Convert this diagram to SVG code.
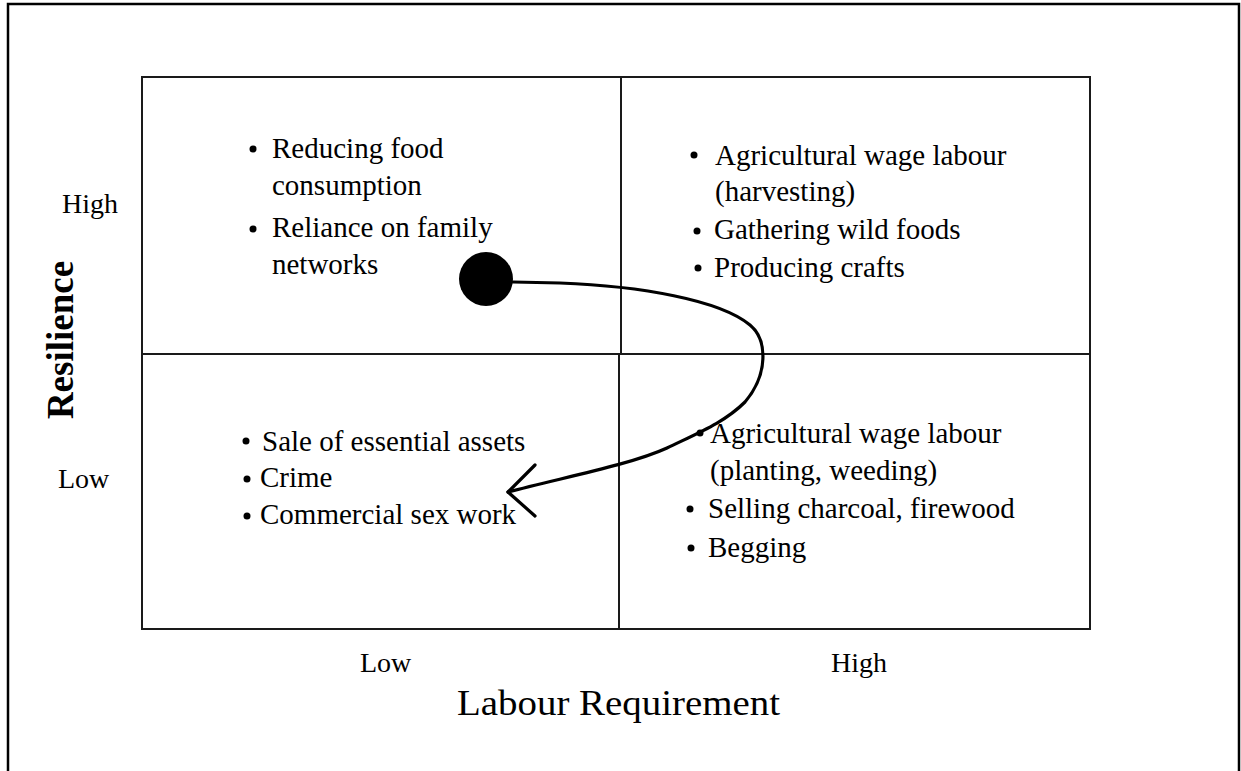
<svg xmlns="http://www.w3.org/2000/svg" width="1241" height="771" viewBox="0 0 1241 771">
<style>
  .t { font-family: "Liberation Serif", "Times New Roman", serif; font-size: 29px; fill: #000; }
  .ax { font-family: "Liberation Serif", "Times New Roman", serif; font-size: 28px; fill: #000; }
  .grid { stroke: #1a1a1a; stroke-width: 2; fill: none; }
  .b { fill: #000; }
</style>
<rect x="0" y="0" width="1241" height="771" fill="#fff"/>
<!-- outer frame -->
<path d="M8,780 L8,4 L1239,4 L1239,780" fill="none" stroke="#000" stroke-width="2.5"/>

<!-- quadrant grid -->
<g id="grid">
  <rect class="grid" x="142" y="77" width="948" height="552"/>
  <line class="grid" x1="142" y1="354" x2="1090" y2="354"/>
  <line class="grid" x1="621" y1="77" x2="621" y2="354"/>
  <line class="grid" x1="619" y1="354" x2="619" y2="629"/>
</g>

<!-- axis labels -->
<g id="axis-y">
  <text class="ax" x="62" y="213">High</text>
  <text class="ax" x="58" y="488">Low</text>
  <text x="73" y="340" transform="rotate(-90 73 340)" text-anchor="middle" font-family="Liberation Serif, Times New Roman, serif" font-size="37" font-weight="bold">Resilience</text>
</g>
<g id="axis-x">
  <text class="ax" x="360" y="672">Low</text>
  <text class="ax" x="831" y="672">High</text>
  <text x="457" y="715" font-family="Liberation Serif, Times New Roman, serif" font-size="35" textLength="323" lengthAdjust="spacingAndGlyphs">Labour Requirement</text>
</g>

<!-- quadrant: high resilience, low labour -->
<g id="q-high-low">
  <circle class="b" cx="253" cy="149" r="3.5"/>
  <text class="t" x="272" y="158">Reducing food</text>
  <text class="t" x="272" y="195">consumption</text>
  <circle class="b" cx="253" cy="229" r="3.5"/>
  <text class="t" x="272" y="237">Reliance on family</text>
  <text class="t" x="272" y="274">networks</text>
</g>

<!-- quadrant: high resilience, high labour -->
<g id="q-high-high">
  <circle class="b" cx="694" cy="155" r="3.5"/>
  <text class="t" x="715" y="165">Agricultural wage labour</text>
  <text class="t" x="715" y="201">(harvesting)</text>
  <circle class="b" cx="697" cy="231" r="3.5"/>
  <text class="t" x="714" y="239">Gathering wild foods</text>
  <circle class="b" cx="698" cy="268" r="3.5"/>
  <text class="t" x="714" y="277">Producing crafts</text>
</g>

<!-- quadrant: low resilience, low labour -->
<g id="q-low-low">
  <circle class="b" cx="246" cy="441" r="3.5"/>
  <text class="t" x="262" y="451">Sale of essential assets</text>
  <circle class="b" cx="247" cy="479" r="3.5"/>
  <text class="t" x="260" y="487">Crime</text>
  <circle class="b" cx="247" cy="516" r="3.5"/>
  <text class="t" x="260" y="524">Commercial sex work</text>
</g>

<!-- quadrant: low resilience, high labour -->
<g id="q-low-high">
  <circle class="b" cx="700" cy="433" r="3.5"/>
  <text class="t" x="710" y="443">Agricultural wage labour</text>
  <text class="t" x="710" y="480">(planting, weeding)</text>
  <circle class="b" cx="690" cy="509" r="3.5"/>
  <text class="t" x="708" y="518">Selling charcoal, firewood</text>
  <circle class="b" cx="691" cy="548" r="3.5"/>
  <text class="t" x="708" y="557">Begging</text>
</g>

<!-- start point -->
<g id="start-dot">
  <circle cx="486" cy="279" r="27" fill="#000"/>
</g>

<!-- connector -->
<g id="connectors" fill="none" stroke="#000" stroke-width="3.2" stroke-linecap="round" stroke-linejoin="round">
  <path d="M513,282 L560,283 C640,286 720,300 750,325 C768,340 768,375 745,402 C725,422 700,432 667,448 C630,465 560,478 508,492"/>
  <path d="M535,465 L508,492 L535,516"/>
</g>
</svg>
